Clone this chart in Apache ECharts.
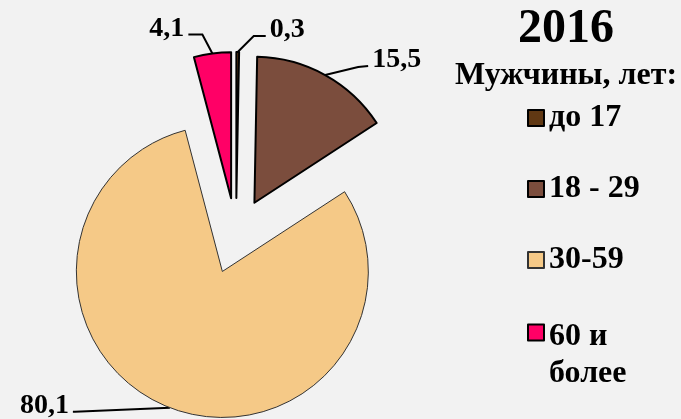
<!DOCTYPE html>
<html>
<head>
<meta charset="utf-8">
<script src="https://cdn.jsdelivr.net/npm/echarts@6/dist/echarts.min.js"></script>
<style>
  html, body { margin: 0; padding: 0; background: #f2f2f2; }
  #chart { width: 681px; height: 419px; }
</style>
</head>
<body>
<div id="chart"></div>
<script>
// Chart data
const categories = ['до 17', '18 - 29', '30-59', '60 и более'];
const values = [0.3, 15.5, 80.1, 4.1];
const valueLabels = ['0,3', '15,5', '80,1', '4,1'];
const colors = ['#603813', '#7b4d3d', '#f5c987', '#ff0066'];
const titleText = '2016';
const subtitleText = 'Мужчины, лет:';

const font = 'Liberation Serif';

// Leader line shape per slice: [elbow dx, dy], [end dx, dy] from arc point
const leaderShapes = [
    { elbow: [16, -16], end: [28, -16], side: 'left' },
    { elbow: [33, -8], end: [43, -9], side: 'left' },
    { elbow: [-95, 4], end: [-97, 4], side: 'right' },
    { elbow: [-10, -19], end: [-24, -19], side: 'right' }
];

const chart = echarts.init(document.getElementById('chart'));

const pieData = categories.map((name, i) => ({
    name: name,
    value: values[i],
    selected: true,
    itemStyle: {
        color: colors[i],
        borderColor: i === 2 ? '#333' : '#000',
        borderWidth: i === 2 ? 1 : 2
    }
}));

const legendText = {
    fontFamily: font,
    fontWeight: 'bold',
    fontSize: 32,
    lineHeight: 36,
    color: '#000'
};

const legendBase = {
    orient: 'vertical',
    left: 527,
    padding: 0,
    itemWidth: 16,
    itemHeight: 16,
    itemGap: 35,
    selectedMode: false,
    icon: 'rect'
};

chart.setOption({
    backgroundColor: '#f2f2f2',
    animation: false,
    title: [
        {
            text: titleText,
            left: 566,
            top: 6,
            textAlign: 'center',
            padding: 0,
            textStyle: { fontFamily: font, fontWeight: 'bold', fontSize: 48, color: '#000' }
        },
        {
            text: subtitleText,
            left: 566,
            top: 60,
            textAlign: 'center',
            padding: 0,
            textStyle: { fontFamily: font, fontWeight: 'bold', fontSize: 32, color: '#000' }
        }
    ],
    legend: [
        Object.assign({}, legendBase, {
            top: 100,
            data: categories.slice(0, 3),
            textStyle: legendText
        }),
        Object.assign({}, legendBase, {
            top: 273,
            data: [categories[3]],
            // empty first line keeps "60 и" level with the icon
            formatter: (name) => '{gap| }\n' + name.replace('60 и ', '60 и\n'),
            textStyle: Object.assign({}, legendText, {
                lineHeight: 37,
                rich: { gap: { fontSize: 10, lineHeight: 45 } }
            })
        })
    ],
    series: [{
        type: 'pie',
        center: [236, 236],
        radius: 146,
        startAngle: 90,
        clockwise: true,
        selectedMode: 'multiple',
        selectedOffset: 38,
        avoidLabelOverlap: false,
        emphasis: { disabled: true },
        data: pieData,
        label: {
            show: true,
            position: 'outside',
            formatter: (p) => valueLabels[p.dataIndex],
            fontFamily: font,
            fontWeight: 'bold',
            fontSize: 28,
            color: '#000'
        },
        labelLine: {
            show: true,
            length: 10,
            length2: 10,
            lineStyle: { color: '#000', width: 2 }
        },
        labelLayout: (params) => {
            const s = leaderShapes[params.dataIndex];
            const p0 = params.labelLinePoints[0];
            const elbow = [p0[0] + s.elbow[0], p0[1] + s.elbow[1]];
            const end = [p0[0] + s.end[0], p0[1] + s.end[1]];
            const r = params.labelRect;
            const targetX = s.side === 'left' ? end[0] + 4 : end[0] - 4 - r.width;
            const targetY = end[1] - 6 - r.height / 2;
            return {
                dx: targetX - r.x,
                dy: targetY - r.y,
                labelLinePoints: [p0, elbow, end]
            };
        }
    }]
});
</script>
</body>
</html>
